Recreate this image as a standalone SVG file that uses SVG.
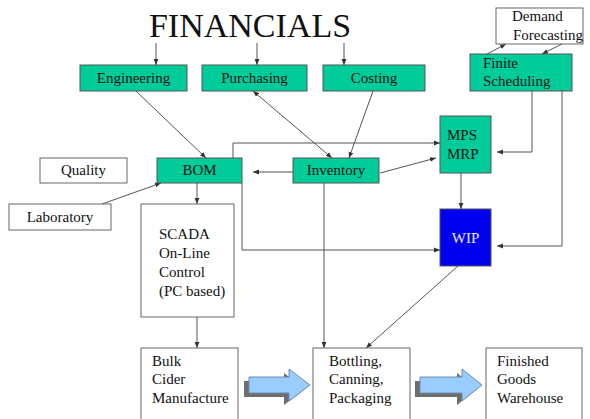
<svg xmlns="http://www.w3.org/2000/svg" width="590" height="419" viewBox="0 0 590 419">
<defs>
<style>
.g{fill:#00CC99;stroke:#555;stroke-width:1}
.w{fill:#fff;stroke:#666;stroke-width:1}
.t{font-family:"Liberation Serif","Times New Roman",serif;font-size:15px;fill:#111}
.c{text-anchor:middle}
.ln{fill:none;stroke:#555;stroke-width:1}
.ba{fill:#99CCFF;stroke:#6C8DB0;stroke-width:1}
.sh{fill:#6E6E6E}
</style>
<marker id="ah" viewBox="0 0 10 10" refX="10" refY="5" markerWidth="6" markerHeight="6" orient="auto-start-reverse" markerUnits="userSpaceOnUse">
<path d="M0,1 L10,5 L0,9 Z" fill="#333"/>
</marker>
</defs>
<rect width="590" height="419" fill="#fff"/>
<text x="250" y="37" text-anchor="middle" font-family="Liberation Serif, Times New Roman, serif" font-size="34" fill="#111">FINANCIALS</text>

<g id="connectors">
<line class="ln" x1="156" y1="43" x2="156" y2="65" marker-end="url(#ah)"/>
<line class="ln" x1="257" y1="43" x2="257" y2="65" marker-end="url(#ah)"/>
<line class="ln" x1="344" y1="43" x2="344" y2="65" marker-end="url(#ah)"/>
<line class="ln" x1="487" y1="54" x2="506" y2="44" marker-end="url(#ah)"/>
<line class="ln" x1="562" y1="44" x2="542" y2="54" marker-end="url(#ah)"/>
<line class="ln" x1="136" y1="91" x2="206" y2="158" marker-end="url(#ah)"/>
<line class="ln" x1="253" y1="91" x2="332" y2="158" marker-start="url(#ah)" marker-end="url(#ah)"/>
<line class="ln" x1="373" y1="91" x2="349" y2="158" marker-end="url(#ah)"/>
<line class="ln" x1="102" y1="204" x2="161" y2="183" marker-end="url(#ah)"/>
<line class="ln" x1="197" y1="183" x2="197" y2="204" marker-end="url(#ah)"/>
<line class="ln" x1="293" y1="172" x2="253" y2="172" marker-end="url(#ah)"/>
<line class="ln" x1="380" y1="173" x2="436" y2="158" marker-end="url(#ah)"/>
<polyline class="ln" points="233,158 233,143 440,143" marker-end="url(#ah)"/>
<polyline class="ln" points="242,183 242,250 440,250" marker-end="url(#ah)"/>
<line class="ln" x1="324" y1="183" x2="324" y2="348" marker-end="url(#ah)"/>
<line class="ln" x1="461" y1="173" x2="461" y2="209" marker-end="url(#ah)"/>
<polyline class="ln" points="532,91 532,152 497,152" marker-end="url(#ah)"/>
<polyline class="ln" points="562,91 562,246 497,246" marker-end="url(#ah)"/>
<line class="ln" x1="458" y1="266" x2="366" y2="348" marker-end="url(#ah)"/>
<line class="ln" x1="197" y1="317" x2="197" y2="348" marker-end="url(#ah)"/>
</g>

<g id="engineering"><rect class="g" x="80" y="65" width="107" height="26"/><text class="t c" x="133.5" y="83">Engineering</text></g>
<g id="purchasing"><rect class="g" x="202" y="65" width="105" height="26"/><text class="t c" x="254.5" y="83">Purchasing</text></g>
<g id="costing"><rect class="g" x="323" y="65" width="102" height="26"/><text class="t c" x="374" y="83">Costing</text></g>
<g id="demand"><rect class="w" x="496" y="8" width="87" height="36"/><text class="t" x="512" y="21">Demand</text><text class="t" x="513" y="40">Forecasting</text></g>
<g id="finite"><rect class="g" x="470" y="54" width="102" height="37"/><text class="t" x="483" y="68">Finite</text><text class="t" x="483" y="86">Scheduling</text></g>
<g id="quality"><rect class="w" x="40" y="158" width="87" height="25"/><text class="t c" x="83.5" y="175">Quality</text></g>
<g id="bom"><rect class="g" x="157" y="158" width="85" height="25"/><text class="t c" x="199.5" y="175">BOM</text></g>
<g id="inventory"><rect class="g" x="293" y="158" width="86" height="25"/><text class="t c" x="336" y="175">Inventory</text></g>
<g id="laboratory"><rect class="w" x="9" y="204" width="102" height="26"/><text class="t c" x="60" y="222">Laboratory</text></g>
<g id="mpsmrp"><rect class="g" x="440" y="116" width="51" height="57"/><text class="t" x="447" y="140">MPS</text><text class="t" x="447" y="159">MRP</text></g>
<g id="wip"><rect x="440" y="209" width="51" height="57" fill="#0000F0" stroke="#555"/><text class="t c" x="465.5" y="243" style="fill:#E8ECFF">WIP</text></g>
<g id="scada"><rect class="w" x="141" y="204" width="93" height="113"/><text class="t" x="159" y="239">SCADA</text><text class="t" x="159" y="258">On-Line</text><text class="t" x="159" y="277">Control</text><text class="t" x="159" y="296">(PC based)</text></g>
<g id="bulk"><rect class="w" x="141" y="348" width="97" height="80"/><text class="t" x="152" y="366">Bulk</text><text class="t" x="152" y="384">Cider</text><text class="t" x="152" y="403">Manufacture</text></g>
<g id="bottling"><rect class="w" x="313" y="348" width="97" height="80"/><text class="t" x="329" y="366">Bottling,</text><text class="t" x="329" y="384">Canning,</text><text class="t" x="329" y="403">Packaging</text></g>
<g id="finished"><rect class="w" x="486" y="348" width="96" height="80"/><text class="t" x="497" y="366">Finished</text><text class="t" x="497" y="384">Goods</text><text class="t" x="497" y="403">Warehouse</text></g>

<g id="blockarrow1">
<path class="sh" transform="translate(-5,4)" d="M249,377 H289 V369 L310,385 L289,401 V393 H249 Z"/>
<path class="ba" d="M249,377 H289 V369 L310,385 L289,401 V393 H249 Z"/>
</g>
<g id="blockarrow2">
<path class="sh" transform="translate(-5,4)" d="M420,377 H462 V369 L482,385 L462,401 V393 H420 Z"/>
<path class="ba" d="M420,377 H462 V369 L482,385 L462,401 V393 H420 Z"/>
</g>
</svg>
